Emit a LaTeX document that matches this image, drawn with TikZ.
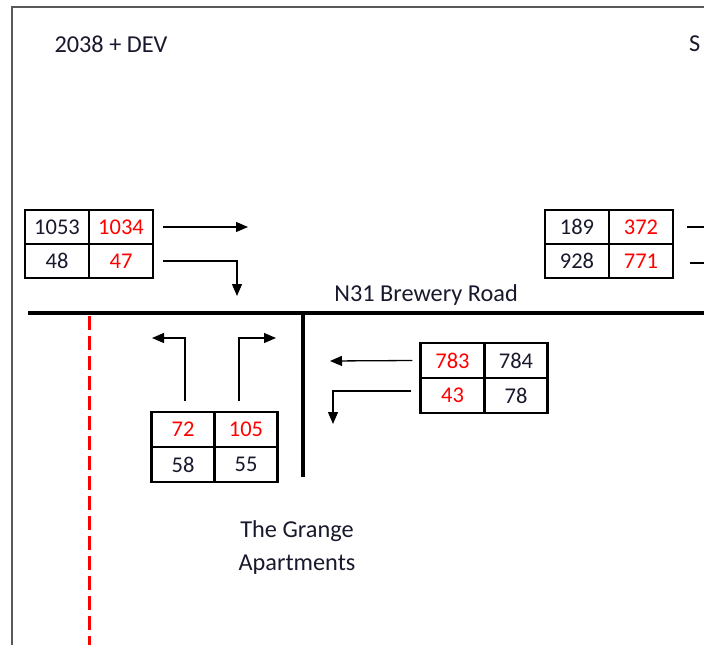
\documentclass[tikz,border=0pt]{standalone}
\usepackage{fontspec}
\setmainfont{Carlito}
\usetikzlibrary{arrows.meta}
\definecolor{redtxt}{RGB}{255,0,0}
\definecolor{darktxt}{RGB}{25,25,45}
\tikzset{
  cell/.style={draw=black,line width=2.8pt,minimum width=64pt,minimum height=34pt,inner sep=0pt,text=darktxt,font=\fontsize{22.5}{26}\selectfont},
  redcell/.style={cell,text=redtxt},
  lbl/.style={inner sep=0pt,text=darktxt,font=\fontsize{24.3}{28}\selectfont},
  arr/.style={line width=1.3pt,-{Triangle[length=12pt,width=10pt]}},
  plainline/.style={line width=1.3pt},
  road/.style={line width=4.5pt},
  frame/.style={line width=1.6pt,draw=black!65},
  boundary/.style={line width=3pt,draw=redtxt,dash pattern=on 14pt off 6pt}
}
\begin{document}
\begin{tikzpicture}[x=1pt,y=-1pt]
\useasboundingbox (0,0) rectangle (704,645);
\clip (0,0) rectangle (704,645);
% frame
\coordinate (fTL) at (12,7);
\coordinate (fTR) at (720,7);
\coordinate (fBL) at (12,660);
\draw[frame] (fTR) -- (fTL) -- (fBL);
% titles
\node[lbl] (title) at (111,44) {2038 + DEV};
\node[lbl,anchor=west] (titleS) at (689,44) {S};
% roads
\coordinate (rW) at (28,313);
\coordinate (rE) at (720,313);
\coordinate (sTop) at (303,311);
\coordinate (sBot) at (303,477);
\draw[road] (rW) -- (rE);
\draw[road] (sTop) -- (sBot);
\node[lbl] (roadname) at (426,295) {N31 Brewery Road};
% red boundary
\coordinate (bTop) at (89,316);
\coordinate (bBot) at (89,660);
\draw[boundary] (bTop) -- (bBot);
% table 1
\node[cell] (t1a) at (57,227) {1053};
\node[redcell] (t1b) at (121,227) {1034};
\node[cell] (t1c) at (57,261) {48};
\node[redcell] (t1d) at (121,261) {47};
% table 2
\node[cell] (t2a) at (577,227) {189};
\node[redcell] (t2b) at (641,227) {372};
\node[cell] (t2c) at (577,261) {928};
\node[redcell] (t2d) at (641,261) {771};
% table 3
\node[redcell,minimum width=63pt,minimum height=35pt] (t3a) at (183,429.5) {72};
\node[redcell,minimum width=63pt,minimum height=35pt] (t3b) at (246,429.5) {105};
\node[cell,minimum width=63pt,minimum height=35pt] (t3c) at (183,464.5) {58};
\node[cell,minimum width=63pt,minimum height=35pt] (t3d) at (246,464.5) {55};
% table 4
\node[redcell,minimum width=63.5pt,minimum height=35pt] (t4a) at (452.5,360.5) {783};
\node[cell,minimum width=63.5pt,minimum height=35pt] (t4b) at (516,360.5) {784};
\node[redcell,minimum width=63.5pt,minimum height=35pt] (t4c) at (452.5,395.5) {43};
\node[cell,minimum width=63.5pt,minimum height=35pt] (t4d) at (516,395.5) {78};
% arrows table 1
\coordinate (c1) at (248,227);
\coordinate (c2) at (237,296);
\draw[arr] ([xshift=9pt]t1b.east) -- (c1);
\draw[arr] ([xshift=9pt]t1d.east) -| (c2);
% lines table 2 (going off the picture)
\coordinate (c7) at (720,227);
\coordinate (c8) at (720,263);
\draw[plainline] ([xshift=13pt]t2b.east) -- (c7);
\draw[plainline] ([xshift=16pt,yshift=-2pt]t2d.east) -- (c8);
% arrows table 3
\coordinate (c3) at (152,338);
\coordinate (c4) at (276,338);
\draw[arr] ([xshift=2pt,yshift=10pt]t3a.north) |- (c3);
\draw[arr] ([xshift=-7pt,yshift=10pt]t3b.north) |- (c4);
% arrows table 4
\coordinate (c5) at (330,361);
\coordinate (c6) at (333,424);
\draw[arr] ([xshift=-7pt]t4a.west) -- (c5);
\draw[arr] ([xshift=-8pt,yshift=4.5pt]t4c.west) -| (c6);
% apartment label
\node[lbl] (apt1) at (297,531) {The Grange};
\node[lbl] (apt2) at (297,565) {Apartments};
\end{tikzpicture}
\end{document}
